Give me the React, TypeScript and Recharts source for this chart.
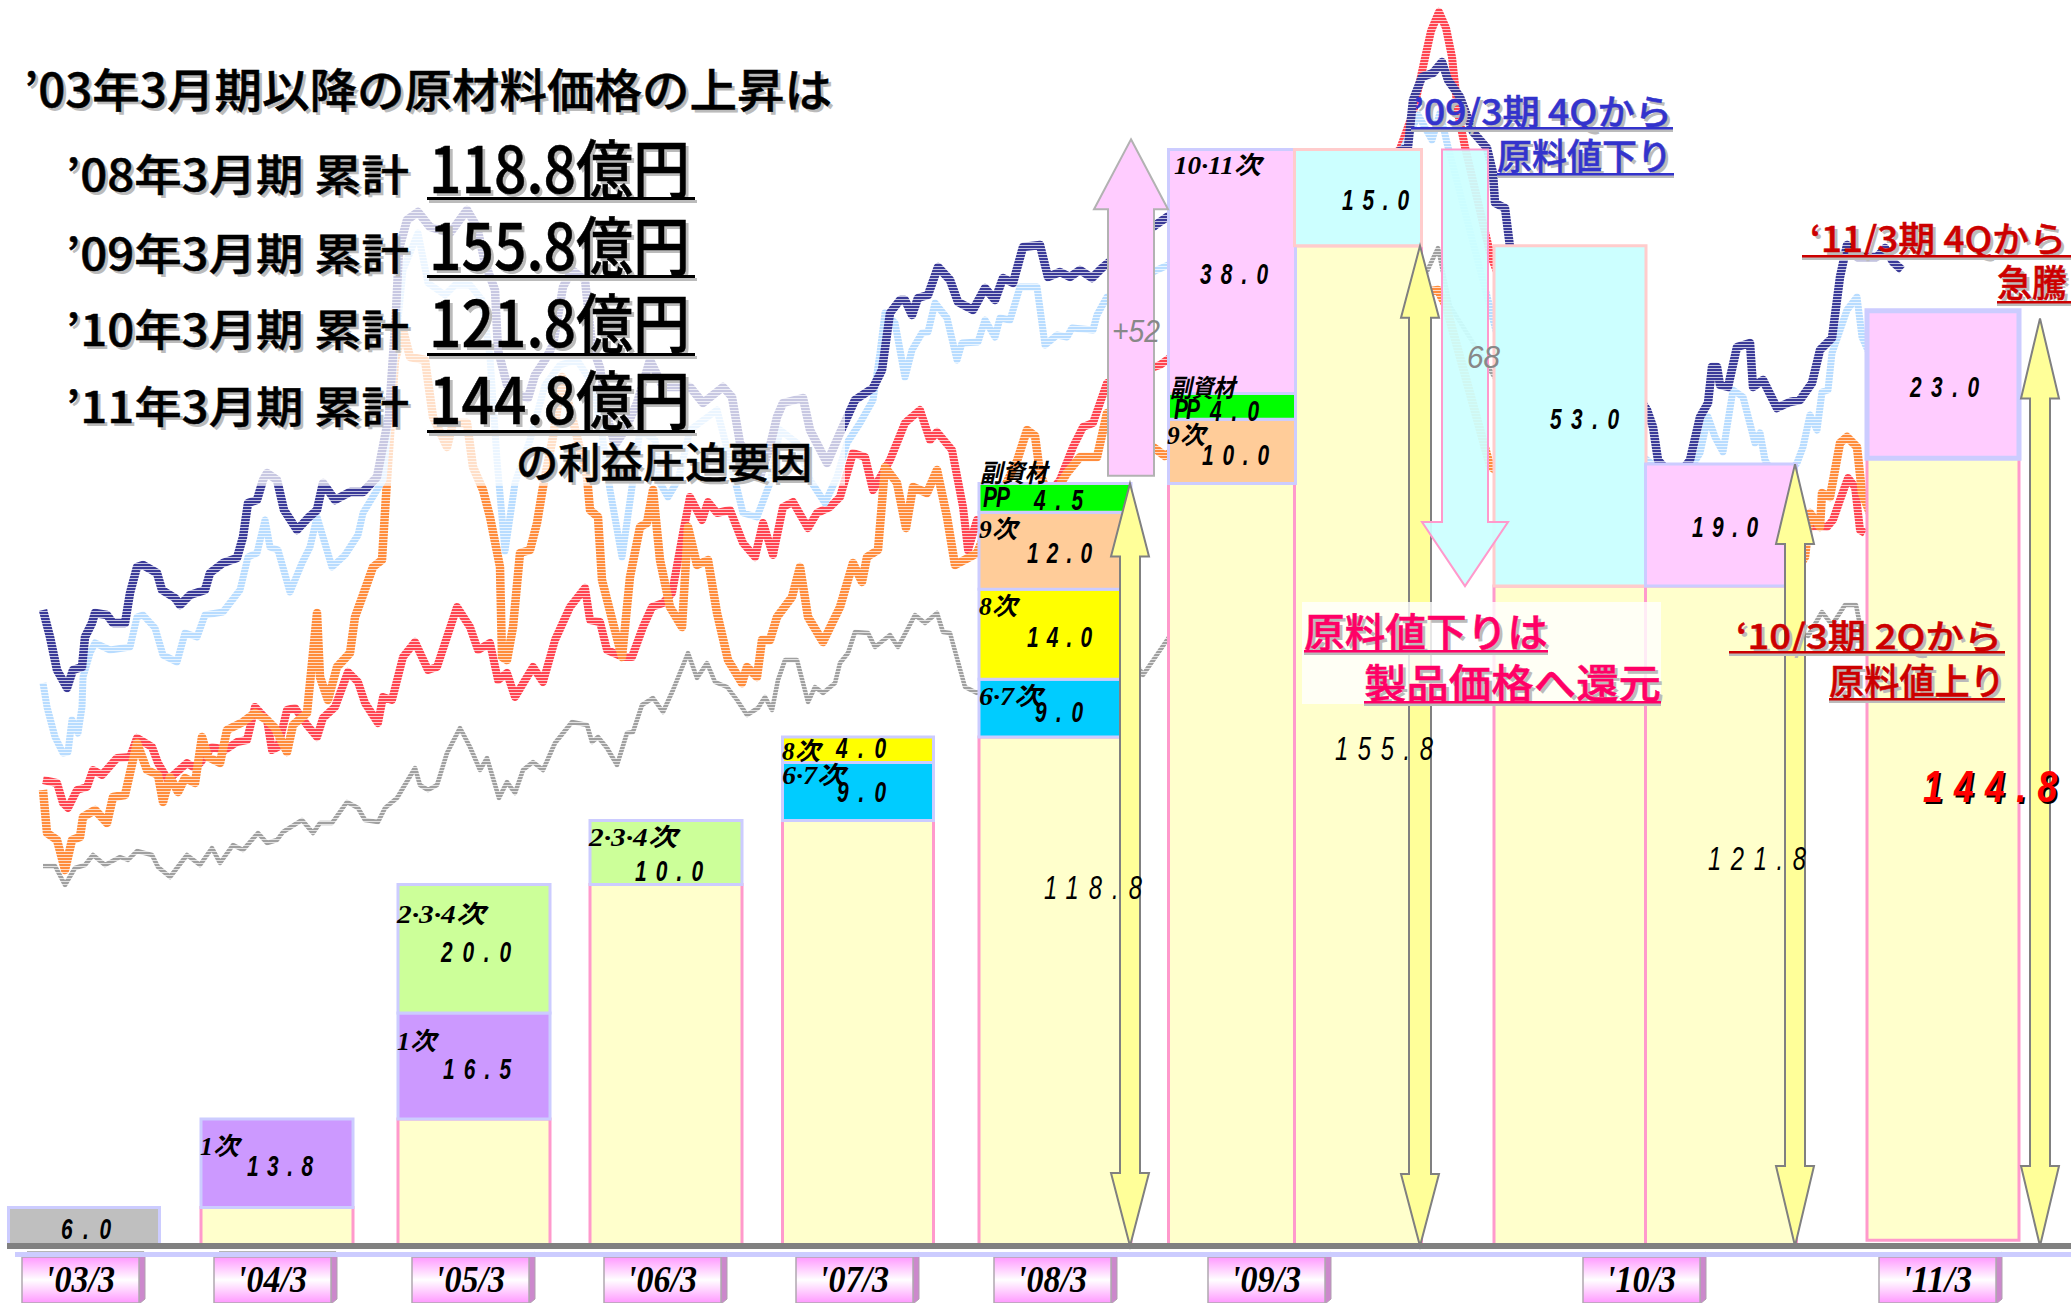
import { ComposedChart, Bar, Line, XAxis, YAxis, ReferenceArea, Rectangle } from "recharts";

// column positions along the axis, one per drawn column
const columnPos = [84, 277, 474, 666, 858, 1055, 1232, 1358, 1570, 1721, 1943];
const columnWidth = [151, 152, 152, 152, 151, 152, 127, 127, 152, 151, 152];

const lift = [0, 0, 0, 0, 0, 0, 0, 0, 0, 0, 0.9];
const opening = [6, 0, 0, 0, 0, 0, 0, 0, 0, 0, 0];
const carried = [0, 6, 19.8, 56.3, 66.3, 79.3, 118.8, 155.8, 102.8, 102.8, 121.8];
const round1 = [0, 13.8, 16.5, 0, 0, 0, 0, 0, 0, 0, 0];
const round234 = [0, 0, 20, 10, 0, 0, 0, 0, 0, 0, 0];
const round67 = [0, 0, 0, 0, 9, 9, 0, 0, 0, 0, 0];
const round8 = [0, 0, 0, 0, 4, 14, 0, 0, 0, 0, 0];
const round9 = [0, 0, 0, 0, 0, 12, 10, 0, 0, 0, 0];
const subPP = [0, 0, 0, 0, 0, 4.5, 4, 0, 0, 0, 0];
const round1011 = [0, 0, 0, 0, 0, 0, 38, 0, 0, 0, 0];
const priceFall = [0, 0, 0, 0, 0, 0, 0, 15, 53, 0, 0];
const priceRise = [0, 0, 0, 0, 0, 0, 0, 0, 0, 19, 23];

const tickPos = [83, 275, 473, 665, 857, 1055, 1269, 1644, 1940];
const tickLabels = ["'03/3", "'04/3", "'05/3", "'06/3", "'07/3", "'08/3", "'09/3", "'10/3", "'11/3"];

// raw material price lines: [position, level above the axis]
const navyLine = [[43,636],[50,609],[57,576],[67,558],[73,576],[82,579],[85,609],[92,623],[95,633],[107,631],[113,623],[125,623],[130,653],[137,679],[143,681],[157,673],[162,656],[175,648],[180,641],[190,651],[205,656],[210,673],[223,683],[237,688],[243,709],[248,743],[257,746],[263,766],[267,773],[277,766],[284,736],[297,716],[308,728],[317,736],[323,763],[335,746],[350,754],[363,754],[377,769],[389,831],[396,935],[399,997],[407,1026],[418,1034],[430,1019],[450,1013],[467,1036],[477,1019],[485,983],[495,956],[498,896],[507,861],[520,851],[528,848],[535,871],[545,886],[553,901],[563,959],[572,976],[585,966],[592,901],[600,878],[608,826],[615,801],[625,816],[637,843],[650,886],[663,859],[690,859],[703,843],[723,859],[732,849],[740,803],[760,769],[770,800],[777,829],[783,843],[803,848],[810,816],[827,783],[840,813],[855,846],[873,858],[882,876],[890,933],[900,946],[905,946],[912,931],[918,948],[928,951],[938,979],[950,966],[958,944],[973,936],[985,958],[995,946],[1003,968],[1013,963],[1023,999],[1040,1001],[1048,969],[1060,974],[1070,969],[1080,976],[1092,968],[1102,978],[1108,983],[1157,1022],[1170,1031],[1230,1041],[1300,1056],[1370,1081],[1408,1099],[1413,1146],[1422,1169],[1433,1173],[1442,1184],[1448,1166],[1460,1149],[1473,1114],[1487,1098],[1493,1073],[1495,1043],[1505,1038],[1510,999],[1560,946],[1620,876],[1647,836],[1653,819],[1658,786],[1675,766],[1690,786],[1700,829],[1708,843],[1712,879],[1717,879],[1720,861],[1728,859],[1737,899],[1750,903],[1753,859],[1763,866],[1768,856],[1777,838],[1790,844],[1800,846],[1812,863],[1820,896],[1832,908],[1840,969],[1847,1001],[1857,989],[1877,989],[1885,998],[1893,984],[1902,976]];
const skyLine = [[43,563],[47,539],[55,509],[63,493],[68,494],[72,526],[78,513],[82,539],[83,569],[90,593],[95,603],[110,596],[130,599],[137,629],[143,631],[155,618],[163,591],[177,584],[185,613],[197,609],[205,631],[223,634],[240,656],[248,689],[257,693],[265,726],[270,699],[278,696],[290,654],[302,683],[310,699],[317,729],[332,679],[345,691],[358,711],[363,733],[377,756],[383,766],[395,896],[403,976],[418,1013],[428,963],[445,951],[455,961],[470,961],[482,946],[490,889],[497,786],[505,695],[515,763],[530,806],[545,861],[560,881],[577,886],[590,866],[600,826],[610,756],[622,689],[632,759],[640,816],[655,806],[660,763],[668,749],[678,766],[690,816],[717,836],[730,786],[743,733],[757,729],[770,763],[780,816],[797,803],[810,766],[825,743],[837,769],[847,803],[860,823],[873,846],[880,893],[885,933],[895,923],[905,869],[912,896],[922,913],[928,914],[935,943],[947,928],[957,886],[962,903],[978,904],[985,926],[995,909],[1000,928],[1010,926],[1020,959],[1037,959],[1045,901],[1057,911],[1067,909],[1072,918],[1093,916],[1097,931],[1107,949],[1157,976],[1300,1040],[1400,1090],[1418,1131],[1432,1106],[1440,1133],[1447,1103],[1500,900],[1647,786],[1680,760],[1700,793],[1708,829],[1715,809],[1723,794],[1733,856],[1743,849],[1755,803],[1760,813],[1765,786],[1780,760],[1797,783],[1803,799],[1810,831],[1817,816],[1822,854],[1828,856],[1832,893],[1847,936],[1857,949],[1862,909],[1875,880]];
const orangeLine = [[43,456],[47,413],[57,406],[65,376],[72,406],[80,409],[83,429],[95,436],[107,423],[113,449],[125,451],[130,473],[137,503],[147,476],[158,471],[163,444],[170,469],[178,454],[185,468],[195,463],[202,509],[208,489],[220,483],[227,516],[243,524],[255,533],[267,526],[275,518],[287,494],[293,521],[307,533],[317,633],[320,569],[328,546],[337,579],[350,593],[355,629],[363,651],[373,679],[382,686],[387,766],[395,886],[403,916],[410,889],[425,886],[433,829],[447,799],[453,823],[467,823],[473,779],[483,756],[490,729],[500,679],[502,589],[507,586],[513,619],[520,693],[530,696],[537,723],[543,759],[553,809],[562,869],[577,809],[587,769],[590,736],[598,729],[602,666],[613,623],[622,589],[630,669],[640,719],[647,723],[653,756],[660,686],[670,639],[682,619],[688,719],[697,681],[708,686],[717,633],[728,586],[742,563],[747,579],[757,569],[762,606],[770,606],[777,629],[792,649],[800,679],[808,629],[823,604],[840,639],[853,683],[862,664],[867,689],[878,696],[885,779],[897,763],[906,718],[913,759],[927,753],[937,776],[947,729],[955,681],[970,689],[977,693],[1005,760],[1017,785],[1027,816],[1035,810],[1040,773],[1050,745],[1067,773],[1080,789],[1097,789],[1107,833],[1157,796],[1165,790],[1300,880],[1400,950],[1438,956],[1446,940],[1490,780],[1600,700],[1780,650],[1805,689],[1810,733],[1820,719],[1822,753],[1830,749],[1840,803],[1847,809],[1857,799],[1862,753],[1875,720]];
const redLine = [[43,466],[57,463],[63,443],[68,438],[77,456],[87,459],[93,476],[102,471],[117,488],[130,489],[137,508],[152,499],[158,483],[168,466],[187,483],[193,479],[200,483],[212,499],[225,496],[237,504],[247,506],[255,539],[267,526],[272,496],[278,499],[287,536],[295,538],[307,521],[317,509],[323,528],[335,539],[348,574],[358,564],[365,543],[378,523],[383,549],[392,546],[403,589],[415,604],[428,576],[437,579],[457,639],[470,619],[478,596],[490,603],[498,566],[507,573],[515,549],[533,579],[543,564],[555,606],[570,639],[585,658],[590,626],[600,624],[607,596],[623,589],[632,589],[643,619],[652,639],[663,643],[672,653],[683,713],[690,749],[702,726],[708,744],[717,733],[730,736],[743,703],[755,689],[763,723],[773,691],[783,739],[793,744],[808,718],[817,733],[830,739],[840,749],[853,793],[865,789],[873,756],[890,786],[905,823],[920,836],[930,806],[937,814],[952,796],[963,739],[968,696],[977,726],[1000,700],[1040,740],[1060,766],[1073,799],[1083,819],[1093,823],[1107,863],[1160,881],[1250,946],[1350,1046],[1400,1097],[1413,1133],[1423,1179],[1431,1215],[1439,1234],[1446,1218],[1452,1189],[1458,1133],[1465,1099],[1490,993],[1530,886],[1640,776],[1700,730],[1790,716],[1815,720],[1827,719],[1833,726],[1840,746],[1848,768],[1855,759],[1860,716],[1865,713]];
const greyLine = [[43,380],[55,380],[65,361],[75,378],[85,381],[93,391],[105,381],[120,389],[128,386],[137,395],[152,391],[158,379],[170,369],[187,391],[200,381],[212,398],[220,383],[233,401],[243,396],[258,413],[267,403],[277,406],[283,414],[302,426],[313,413],[320,423],[332,423],[347,444],[358,438],[365,426],[378,424],[385,438],[397,448],[415,478],[420,461],[428,456],[437,461],[447,493],[460,518],[470,499],[480,476],[487,488],[499,448],[507,464],[515,453],[523,476],[533,484],[543,476],[555,503],[572,524],[587,521],[592,504],[598,509],[607,498],[617,481],[627,513],[633,514],[642,541],[653,548],[663,534],[673,556],[688,593],[697,568],[707,583],[715,564],[727,559],[737,546],[747,531],[758,538],[765,549],[772,536],[778,566],[785,586],[797,586],[808,544],[815,559],[823,553],[835,563],[840,583],[848,593],[855,614],[868,613],[875,599],[890,611],[898,599],[915,631],[925,623],[937,633],[943,614],[950,613],[965,559],[977,553],[1040,600],[1100,610],[1137,581],[1143,571],[1165,603],[1300,800],[1420,960],[1438,998],[1450,940],[1600,700],[1796,620],[1808,610],[1822,634],[1832,621],[1845,641],[1856,641],[1862,611],[1875,590]];

const columns = columnPos.map((pos, i) => ({
  pos,
  lift: lift[i],
  opening: opening[i],
  carried: carried[i],
  round1: round1[i],
  round234: round234[i],
  round67: round67[i],
  round8: round8[i],
  round9: round9[i],
  subPP: subPP[i],
  round1011: round1011[i],
  priceFall: priceFall[i],
  priceRise: priceRise[i],
}));

const toRows = (pts: number[][]) => pts.map(([pos, level]) => ({ pos, level }));

const lines = [
  { id: "grey", rows: toRows(greyLine), color: "#a0a0a0", width: 4.5 },
  { id: "red", rows: toRows(redLine), color: "#ff4450", width: 8 },
  { id: "orange", rows: toRows(orangeLine), color: "#ff8c3c", width: 8.5 },
  { id: "sky", rows: toRows(skyLine), color: "#b8dcff", width: 7 },
  { id: "navy", rows: toRows(navyLine), color: "#3a3a98", width: 8.5 },
];

const segments = [
  { key: "lift", fill: "none", stroke: "none" },
  { key: "opening", fill: "#bfbfbf", stroke: "#ccccff" },
  { key: "carried", fill: "#ffffcc", stroke: "#ff99cc" },
  { key: "round1", fill: "#cc99ff", stroke: "#ccccff" },
  { key: "round234", fill: "#ccff99", stroke: "#ccccff" },
  { key: "round67", fill: "#00ccff", stroke: "#ccccff" },
  { key: "round8", fill: "#ffff00", stroke: "#ccccff" },
  { key: "round9", fill: "#ffcc99", stroke: "#ccccff" },
  { key: "subPP", fill: "#00ff00", stroke: "#ccccff" },
  { key: "round1011", fill: "#ffccff", stroke: "#ccccff" },
  { key: "priceFall", fill: "#ccffff", stroke: "#ffcccc" },
  { key: "priceRise", fill: "#ffccff", stroke: "#ccccff" },
];

const arrows = [
  { pos: 1130, head: 19, shaft: 10, from: 0, to: 118.8, len: 73, both: true, fill: "#ffff99", stroke: "#808080", alpha: 1 },
  { pos: 1420, head: 19, shaft: 11, from: 0, to: 155.8, len: 72, both: true, fill: "#ffff99", stroke: "#808080", alpha: 1 },
  { pos: 1795, head: 19, shaft: 10, from: 0, to: 121.8, len: 80, both: true, fill: "#ffff99", stroke: "#808080", alpha: 1 },
  { pos: 2040, head: 19, shaft: 10, from: 0, to: 144.5, len: 80, both: true, fill: "#ffff99", stroke: "#808080", alpha: 1 },
  { pos: 1131, head: 37, shaft: 23, from: 120, to: 172.4, len: 70, both: false, fill: "#ffccff", stroke: "#b2b2b2", alpha: 1 },
  { pos: 1465, head: 43, shaft: 23, from: 170.8, to: 102.8, len: 64, both: false, fill: "#ccffff", stroke: "#ff99cc", alpha: 0.93 },
];

function ColumnShape(props: any) {
  const { x, y, width, height, index, fill, stroke, dataKey } = props;
  const w = columnWidth[index];
  if (!height) return null;
  // the last column's top block has a heavier edge
  const edge = index === 10 && dataKey === "priceRise" ? 5 : 3;
  return <Rectangle x={x + width / 2 - w / 2} y={y} width={w} height={height} fill={fill} stroke={stroke} strokeWidth={edge} />;
}

function arrowShape(a: any) {
  return (p: any) => {
    const { x, y, width, height } = p;
    const cx = x + width / 2;
    const h = a.head;
    const s = a.shaft;
    const top = y;
    const bot = y + height;
    const up = a.both || a.to > a.from;
    const down = a.both || a.to < a.from;
    const pts: number[][] = [];
    if (up) pts.push([cx, top], [cx + h, top + a.len], [cx + s, top + a.len]);
    else pts.push([cx - s, top], [cx + s, top]);
    if (down) pts.push([cx + s, bot - a.len], [cx + h, bot - a.len], [cx, bot], [cx - h, bot - a.len], [cx - s, bot - a.len]);
    else pts.push([cx + s, bot], [cx - s, bot]);
    if (up) pts.push([cx - s, top + a.len], [cx - h, top + a.len]);
    return <polygon points={pts.map((q) => q.join(",")).join(" ")} fill={a.fill} fillOpacity={a.alpha} stroke={a.stroke} strokeWidth={2} />;
  };
}

function BoxTick(props: any) {
  const { x, y, index } = props;
  const top = y + 11;
  return (
    <g>
      {index < 2 && <rect x={x - 56} y={top - 6} width={117} height={6} fill="#b5b5b5" />}
      <polygon points={`${x + 56},${top} ${x + 62},${top - 5} ${x + 62},${top + 42} ${x + 56},${top + 47}`} fill="#cc88cc" stroke="#b0a0b0" />
      <rect x={x - 61} y={top} width={117} height={46} fill="url(#tickFill)" stroke="#b0a8b0" strokeWidth={1.5} />
      <text
        x={x - 3}
        y={top + 35}
        textAnchor="middle"
        textLength={70}
        lengthAdjust="spacingAndGlyphs"
        fontFamily="Liberation Serif"
        fontWeight={700}
        fontStyle="italic"
        fontSize={38}
        fill="#000"
      >
        {tickLabels[index]}
      </text>
    </g>
  );
}

const JP = "'Noto Sans CJK JP', 'Liberation Sans', sans-serif";

// [text, left, right, baseline, size]
const headlines = [
  ["’03年3月期以降の原材料価格の上昇は", 24, 832, 107, 46],
  ["’08年3月期 累計", 66, 409, 191, 43],
  ["’09年3月期 累計", 66, 409, 270, 43],
  ["’10年3月期 累計", 66, 409, 346, 43],
  ["’11年3月期 累計", 66, 409, 423, 43],
  ["の利益圧迫要因", 516, 812, 478, 42],
];
const totals = [
  ["118.8億円", 429, 690, 193, 198],
  ["155.8億円", 429, 690, 270, 276],
  ["121.8億円", 429, 690, 347, 354],
  ["144.8億円", 429, 690, 424, 431],
];
// [text, left, right, baseline, underline left, underline right, underline y, colour, size]
const notes = [
  ["’09/3期 4Qから", 1413, 1672, 125, 1411, 1673, 128, "#3333cc", 35],
  ["原料値下り", 1497, 1672, 170, 1497, 1674, 174, "#3333cc", 36],
  ["‘11/3期 4Qから", 1810, 2066, 252, 1802, 2071, 256, "#cc0000", 35],
  ["急騰", 1997, 2067, 297, 1997, 2071, 302, "#cc0000", 37],
  ["原料値下りは", 1304, 1548, 647, 1304, 1548, 651, "#ff0066", 40],
  ["製品価格へ還元", 1364, 1661, 698, 1364, 1661, 702, "#ff0066", 40],
  ["‘10/3期 2Qから", 1736, 2002, 649, 1729, 2005, 652, "#cc0000", 34],
  ["原料値上り", 1829, 2005, 695, 1829, 2005, 699, "#cc0000", 36],
];
// bar value labels: [text, left, right, baseline]
const valueLabels = [
  ["6.0", 61, 111, 1239],
  ["13.8", 247, 313, 1176],
  ["16.5", 443, 511, 1079],
  ["20.0", 441, 511, 962],
  ["10.0", 635, 703, 881],
  ["4.0", 836, 886, 758],
  ["9.0", 837, 886, 802],
  ["PP", 983, 1010, 507],
  ["4.5", 1034, 1083, 510],
  ["12.0", 1027, 1092, 563],
  ["14.0", 1027, 1092, 647],
  ["9.0", 1035, 1083, 722],
  ["38.0", 1200, 1268, 284],
  ["PP", 1174, 1200, 419],
  ["4.0", 1210, 1259, 421],
  ["10.0", 1202, 1269, 465],
  ["15.0", 1342, 1409, 210],
  ["53.0", 1550, 1619, 429],
  ["19.0", 1692, 1758, 537],
  ["23.0", 1910, 1979, 397],
];
const thinLabels = [
  ["118.8", 1044, 1142, 899],
  ["155.8", 1335, 1433, 760],
  ["121.8", 1708, 1806, 870],
];
const roundLabels = [
  ["1次", 200, 239, 1155],
  ["1次", 397, 436, 1050],
  ["2·3·4次", 397, 485, 923],
  ["2·3·4次", 589, 677, 846],
  ["8次", 782, 820, 760],
  ["6·7次", 782, 845, 784],
  ["副資材", 980, 1047, 482],
  ["9次", 979, 1017, 538],
  ["8次", 979, 1017, 615],
  ["6·7次", 979, 1042, 705],
  ["10·11次", 1174, 1261, 174],
  ["副資材", 1170, 1235, 397],
  ["9次", 1167, 1205, 444],
];

function NarrowNumber({ text, l, r, b, size, weight, fill, squeeze = 0.72 }: any) {
  return (
    <text
      transform={`translate(${l},${b}) scale(${squeeze},1)`}
      textLength={(r - l) / squeeze}
      lengthAdjust="spacing"
      fontFamily="'Liberation Sans'"
      fontStyle="italic"
      fontWeight={weight}
      fontSize={size}
      fill={fill}
    >
      {text}
    </text>
  );
}

function Overlay() {
  const stretched = { lengthAdjust: "spacingAndGlyphs" as const };
  const jp = (text: any, l: number, r: number, b: number, size: number, fill: string, key: string, weight = 500) => (
    <g key={key}>
      <text x={l + 3} y={b + 3} textLength={r - l} {...stretched} fontFamily={JP} fontWeight={weight} fontSize={size} fill="#bbb">{text}</text>
      <text x={l} y={b} textLength={r - l} {...stretched} fontFamily={JP} fontWeight={weight} fontSize={size} fill={fill} stroke={fill} strokeWidth={0.5}>{text}</text>
    </g>
  );
  return (
    <svg width={2071} height={1303} style={{ position: "absolute", left: 0, top: 0, pointerEvents: "none" }}>
      <rect x={0} y={40} width={845} height={445} fill="#fff" fillOpacity={0.72} />
      <rect x={1302} y={602} width={359} height={102} fill="#fff" fillOpacity={0.8} />
      <rect x={15} y={1252} width={2056} height={5} fill="#ccccff" />
      {headlines.map((h: any, i) => jp(h[0], h[1], h[2], h[3], h[4], "#000", "h" + i))}
      {totals.map((t: any, i) => (
        <g key={"t" + i}>
          {jp(t[0], t[1], t[2], t[3], 64, "#000", "tt" + i)}
          <rect x={429} y={t[4] + 2} width={268} height={3} fill="#bbb" />
          <rect x={427} y={t[4] - 1} width={268} height={3} fill="#000" />
        </g>
      ))}
      {notes.map((n: any, i) => (
        <g key={"n" + i}>
          {jp(n[0], n[1], n[2], n[3], n[8], n[7], "nn" + i)}
          <rect x={n[4]} y={n[6] + 1} width={n[5] - n[4]} height={3} fill="#bbb" />
          <rect x={n[4]} y={n[6] - 1} width={n[5] - n[4]} height={2.5} fill={n[7]} />
        </g>
      ))}
      {valueLabels.map((v: any, i) => (
        <NarrowNumber key={"v" + i} text={v[0]} l={v[1]} r={v[2]} b={v[3]} size={29} weight={700} fill="#000" />
      ))}
      {thinLabels.map((v: any, i) => (
        <NarrowNumber key={"l" + i} text={v[0]} l={v[1]} r={v[2]} b={v[3]} size={33} weight={400} fill="#000" />
      ))}
      {roundLabels.map((v: any, i) => (
        <text key={"r" + i} x={v[1]} y={v[3]} textLength={v[2] - v[1]} lengthAdjust="spacingAndGlyphs" fontFamily={`'Liberation Serif', ${JP}`} fontStyle="italic" fontWeight={700} fontSize={25} fill="#000">{v[0]}</text>
      ))}
      <text x={1112} y={342} textLength={48} lengthAdjust="spacingAndGlyphs" fontFamily="Liberation Sans" fontStyle="italic" fontSize={31} fill="#888">+52</text>
      <text x={1467} y={368} textLength={33} lengthAdjust="spacingAndGlyphs" fontFamily="Liberation Sans" fontStyle="italic" fontSize={31} fill="#888">68</text>
      <NarrowNumber text="144.8" l={1925} r={2059} b={804} size={44} weight={700} fill="#000" squeeze={0.8} />
      <NarrowNumber text="144.8" l={1923} r={2057} b={802} size={44} weight={700} fill="#ff0000" squeeze={0.8} />
    </svg>
  );
}

export default function App() {
  return (
    <div style={{ position: "absolute", left: 0, top: 0, width: 2071, height: 1303, background: "#fff", overflow: "hidden" }}>
      <ComposedChart width={2071} height={1303} data={columns} margin={{ top: 0, right: 0, bottom: 0, left: 7 }}>
        <defs>
          <linearGradient id="tickFill" x1="0" y1="0" x2="0" y2="1">
            <stop offset="0" stopColor="#ff99ff" />
            <stop offset="0.5" stopColor="#ffffff" />
            <stop offset="1" stopColor="#ff99ff" />
          </linearGradient>
          {lines.map((l) => (
            <pattern key={l.id} id={"stripe-" + l.id} patternUnits="userSpaceOnUse" width={4} height={3}>
              <rect width={4} height={3} fill={l.color} />
              <rect y={2} width={4} height={1} fill="#fff" fillOpacity={0.7} />
            </pattern>
          ))}
        </defs>
        <XAxis
          xAxisId="pos"
          dataKey="pos"
          type="number"
          domain={[7, 2071]}
          ticks={tickPos}
          interval={0}
          height={57}
          tickSize={0}
          tickMargin={0}
          axisLine={{ stroke: "#808080", strokeWidth: 6 }}
          tickLine={false}
          tick={<BoxTick />}
        />
        <XAxis xAxisId="t" dataKey="pos" type="number" domain={[7, 2071]} hide />
        <YAxis yAxisId="amount" type="number" domain={[0, 194.1]} hide />
        <YAxis yAxisId="level" type="number" domain={[0, 1246]} hide />
        {lines.map((l) => (
          <Line
            key={l.id}
            xAxisId="t"
            yAxisId="level"
            data={l.rows}
            dataKey="level"
            type="linear"
            stroke={`url(#stripe-${l.id})`}
            strokeWidth={l.width}
            strokeLinejoin="round"
            dot={false}
            activeDot={false}
            isAnimationActive={false}
            zIndex={10}
          />
        ))}
        {segments.map((s) => (
          <Bar
            key={s.key}
            xAxisId="pos"
            yAxisId="amount"
            dataKey={s.key}
            stackId="total"
            fill={s.fill}
            stroke={s.stroke}
            barSize={120}
            shape={<ColumnShape />}
            isAnimationActive={false}
            zIndex={20}
          />
        ))}
        {arrows.map((a, i) => (
          <ReferenceArea
            key={i}
            xAxisId="pos"
            yAxisId="amount"
            x1={a.pos - a.head}
            x2={a.pos + a.head}
            y1={Math.min(a.from, a.to)}
            y2={Math.max(a.from, a.to)}
            ifOverflow="visible"
            shape={arrowShape(a)}
            zIndex={30}
          />
        ))}
      </ComposedChart>
      <Overlay />
    </div>
  );
}
